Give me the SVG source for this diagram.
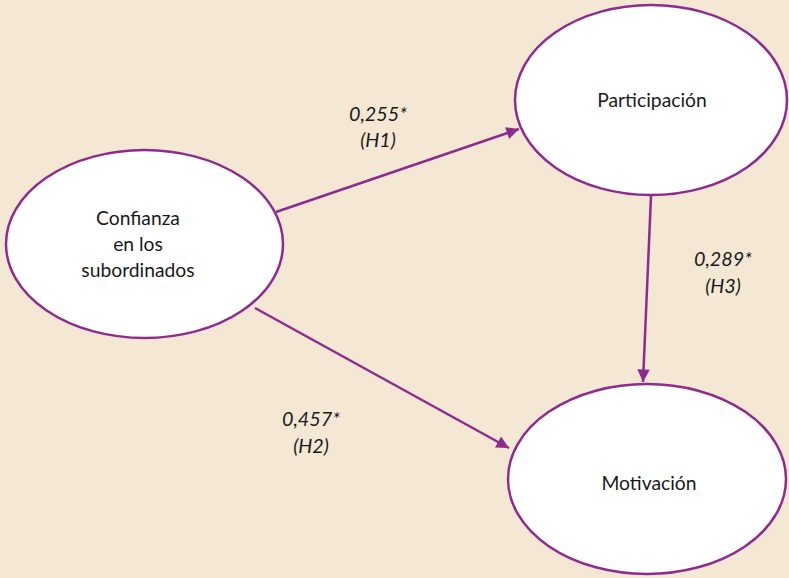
<svg xmlns="http://www.w3.org/2000/svg" width="789" height="578" viewBox="0 0 789 578">
<defs>
<style>
.node{fill:#ffffff;stroke:#8e2b8e;stroke-width:2.5}
.lbl{font-family:Lato,"Open Sans","Liberation Sans",sans-serif;font-size:19.3px;fill:#1a1a1a;text-anchor:middle}
.coef{font-family:Lato,"Open Sans","Liberation Sans",sans-serif;font-size:19.8px;font-style:italic;fill:#1a1a1a;text-anchor:middle}
.edge{stroke:#8e2b8e;stroke-width:2.5;fill:none;marker-end:url(#arr)}
</style>
<marker id="arr" viewBox="0 0 10 10" refX="10" refY="5" markerWidth="6" markerHeight="5" markerUnits="strokeWidth" orient="auto">
<path d="M0,0 L10,5 L0,10 z" fill="#8e2b8e"/>
</marker>
</defs>
<rect width="789" height="578" fill="#f4e8d5"/>
<g id="connectors">
<line class="edge" x1="276" y1="212" x2="519" y2="129"/>
<line class="edge" x1="255" y1="308" x2="509" y2="448"/>
<line class="edge" x1="651" y1="196" x2="643" y2="382"/>
</g>
<g id="confianza">
<ellipse class="node" cx="144.5" cy="244" rx="138.5" ry="94"/>
<text class="lbl" x="138" y="225">Confianza</text>
<text class="lbl" x="138" y="251">en los</text>
<text class="lbl" x="138" y="277">subordinados</text>
</g>
<g id="participacion">
<ellipse class="node" cx="651" cy="100" rx="136" ry="95"/>
<text class="lbl" x="652" y="107">Participación</text>
</g>
<g id="motivacion">
<ellipse class="node" cx="647" cy="479" rx="139" ry="95"/>
<text class="lbl" x="649" y="490">Motivación</text>
</g>
<g id="labels">
<text class="coef" x="378" y="121">0,255*</text>
<text class="coef" x="378" y="147">(H1)</text>
<text class="coef" x="311" y="426">0,457*</text>
<text class="coef" x="311" y="453">(H2)</text>
<text class="coef" x="723" y="266">0,289*</text>
<text class="coef" x="723" y="293">(H3)</text>
</g>
</svg>
